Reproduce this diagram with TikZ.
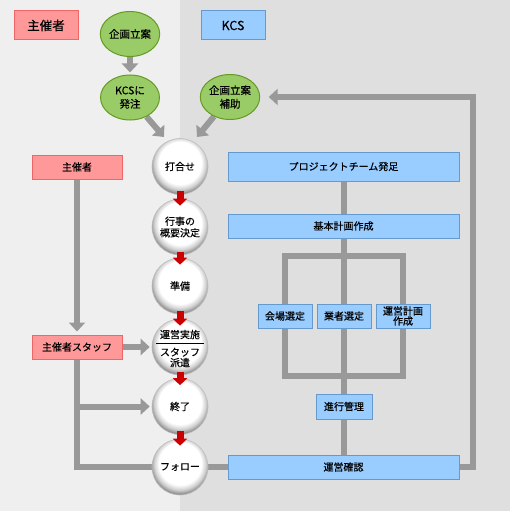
\documentclass[tikz,border=0pt]{standalone}
\usepackage{fontspec}
\setmainfont{Noto Sans CJK JP}[FakeBold=0.4]
\usetikzlibrary{shapes.geometric,arrows.meta}
\definecolor{leftbg}{HTML}{EFEFEF}
\definecolor{rightbg}{HTML}{DFDFDF}
\definecolor{pinkf}{HTML}{FF9999}
\definecolor{pinkd}{HTML}{EE6666}
\definecolor{bluef}{HTML}{99CCFF}
\definecolor{blued}{HTML}{6699CC}
\definecolor{greenf}{HTML}{99CC66}
\definecolor{greend}{HTML}{669922}
\definecolor{grayc}{HTML}{999999}
\definecolor{redc}{HTML}{CC0000}
\pgfdeclareradialshading{sphere}{\pgfpoint{0bp}{5bp}}{color(0bp)=(white); color(19bp)=(white); color(23bp)=(black!18); color(26.5bp)=(black!45); color(50bp)=(black!45)}
\pgfdeclarelayer{bg}
\pgfdeclarelayer{lines}
\pgfsetlayers{bg,lines,main}
\tikzset{
  fs/.style={font=\fontsize{10}{12}\selectfont},
  title/.style={draw=#1, line width=1pt, minimum width=64pt, minimum height=29pt, inner sep=0pt, font=\fontsize{12.5}{14}\selectfont},
  pinkbox/.style={fill=pinkf, draw=pinkd, line width=1pt, inner sep=0pt, fs},
  bluebox/.style={fill=bluef, draw=blued, line width=1pt, inner sep=0pt, align=center, font=\fontsize{10}{10}\selectfont},
  greenell/.style={ellipse, fill=greenf, draw=greend, line width=1pt, minimum width=59pt, minimum height=45pt, inner sep=0pt, align=center, font=\fontsize{10.5}{13.5}\selectfont},
  ball/.style={circle, minimum size=56pt, inner sep=0pt, shading=sphere, draw=black!25, line width=0.6pt, align=center, font=\fontsize{10}{11.5}\selectfont},
  gline/.style={line width=6pt, draw=grayc},
  garrow/.style={line width=6pt, draw=grayc, -{Triangle[width=16pt,length=9pt]}},
  rarrow/.style={line width=7pt, draw=redc, -{Triangle[width=14pt,length=7pt]}},
}
\begin{document}
\begin{tikzpicture}[x=1pt,y=-1pt]
\useasboundingbox (0,0) rectangle (510,511);
\begin{pgfonlayer}{bg}
\fill[leftbg] (0,0) rectangle (180,511);
\fill[rightbg] (180,0) rectangle (510,511);
\end{pgfonlayer}

% titles
\node[title=pinkd, fill=pinkf] (t1) at (46,25.5) {主催者};
\node[title=blued, fill=bluef] (t2) at (233,25.5) {KCS};

% green ellipses
\node[greenell] (e1) at (130,34) {企画立案};
\node[greenell] (e2) at (130,97.5) {KCSに\\発注};
\node[greenell] (e3) at (230,97) {企画立案\\補助};

% balls
\node[ball] (c1) at (180,166.5) {打合せ};
\node[ball] (c2) at (180,227) {行事の\\概要決定};
\node[ball] (c3) at (180,286) {準備};
\node[ball] (c4) at (180,347) {};
\node[fs] (c4a) at (180,334.5) {運営実施};
\node[align=center, font=\fontsize{10}{10.5}\selectfont] (c4b) at (180,357.5) {スタッフ\\派遣};
\draw[line width=0.8pt] ([xshift=-24pt,yshift=4pt]c4.center) -- ([xshift=24pt,yshift=4pt]c4.center);
\node[ball] (c5) at (180,406.5) {終了};
\node[ball] (c6) at (180,467) {フォロー};

% pink boxes
\node[pinkbox, minimum width=90pt, minimum height=24pt] (p1) at (77,167) {主催者};
\node[pinkbox, minimum width=90pt, minimum height=24pt] (p2) at (77,347) {主催者スタッフ};

% blue boxes
\node[bluebox, minimum width=231pt, minimum height=29pt] (b1) at (343.5,166.5) {プロジェクトチーム発足};
\node[bluebox, minimum width=231pt, minimum height=24pt] (b2) at (343.5,226) {基本計画作成};
\node[bluebox, minimum width=54pt, minimum height=24pt] (b3) at (285,316) {会場選定};
\node[bluebox, minimum width=54pt, minimum height=24pt] (b4) at (344,316) {業者選定};
\node[bluebox, minimum width=54pt, minimum height=24pt] (b5) at (403,316) {運営計画\\作成};
\node[bluebox, minimum width=56pt, minimum height=25pt] (b6) at (344,406.5) {進行管理};
\node[bluebox, minimum width=231pt, minimum height=24pt] (b7) at (343.5,467) {運営確認};

% coordinates
\coordinate (a1) at (164,137);
\coordinate (a2) at (197,137);
\coordinate (bt) at (285,256);
\coordinate (bb) at (403,376);
\coordinate (loopc) at (473,97);

\begin{pgfonlayer}{lines}
\draw[garrow, shorten >=2pt] (e1) -- (e2);
\draw[garrow] (e2) -- (a1);
\draw[garrow] (e3) -- (a2);
\draw[garrow, shorten >=3pt] (p1) -- (p2);
\draw[garrow, shorten >=2pt] (p2) -- (c4);
\draw[gline] (p2.south) |- (c6.west);
\draw[garrow, shorten >=2pt] (p2.south |- c5.west) -- (c5.west);
\draw[gline] (c6.east) -- (b7.west);
\draw[gline] (b1.south) -- (b2.north);
\draw[gline] (b2.south) -- (b7.north);
\draw[gline] (bt) rectangle (bb);
\draw[garrow, shorten >=8.5pt] (b7.east) -| (loopc) -- (e3.east);
\end{pgfonlayer}

% red arrows
\draw[rarrow] ([yshift=3.5pt]c1.south) -- ([yshift=-7pt]c2.north);
\draw[rarrow] ([yshift=3.5pt]c2.south) -- ([yshift=-7pt]c3.north);
\draw[rarrow] ([yshift=3.5pt]c3.south) -- ([yshift=-7pt]c4.north);
\draw[rarrow] ([yshift=3.5pt]c4.south) -- ([yshift=-7pt]c5.north);
\draw[rarrow] ([yshift=3.5pt]c5.south) -- ([yshift=-7pt]c6.north);
\end{tikzpicture}
\end{document}
